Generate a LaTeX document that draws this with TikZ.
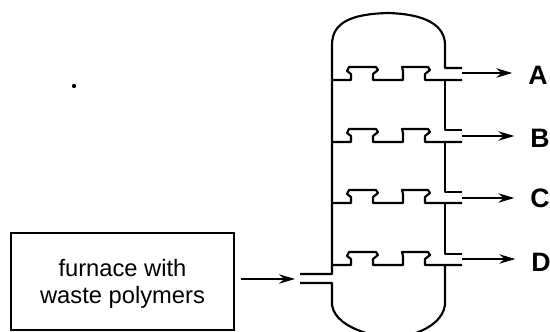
\documentclass[tikz,border=0pt]{standalone}
\usepackage{fontspec}
\setmainfont{Liberation Sans}
\usetikzlibrary{arrows.meta}
\tikzset{
	wall/.style={line width=1.6pt,line join=round},
	flow/.style={line width=1.5pt,-{Stealth[length=12pt,width=7pt]}},
	stream/.style={font=\fontsize{20}{22}\selectfont\bfseries,inner sep=0pt,outer sep=12pt},
	furnacebox/.style={draw,line width=1.1pt,minimum width=167pt,minimum height=73pt,align=center,text depth=0pt,font=\fontsize{17.8}{20.2}\selectfont},
	tray/.pic={
		\draw[wall] (0,0) -- ++(19,0) -- ++(0,-6) -- ++(-4,-3) -- ++(2,-4) -- ++(27,0) -- ++(2,3) -- ++(-5,4) -- ++(0,6)
			-- ++(30,0) -- ++(0,-9) -- ++(-1,-4) -- ++(26,0) -- ++(2,3) -- ++(-5,4) -- ++(0,6) -- ++(37,0);
	}
}
\begin{document}
\begin{tikzpicture}[x=0.75pt,y=-0.75pt]
		\useasboundingbox (0,0) rectangle (550,332);
		% Draw column.
		\draw[wall] (300,274) -- (332,274) -- (332,45) .. controls (332,22) and (352,14) .. (388,13) .. controls (425,14) and (445,25) .. (445,45) -- (445,68) -- (462,68);
		\draw[wall] (300,283) -- (332,283) -- (332,305) .. controls (334,318) and (347,327) .. (366,333);
		\draw[wall] (445,265) -- (445,305) .. controls (443,318) and (432,327) .. (416,333);
		\draw[wall] (445,80) -- (445,130) -- (462,130);
		\draw[wall] (445,142) -- (445,192) -- (462,192);
		\draw[wall] (445,203) -- (445,254) -- (462,254);
		
		% Draw trays.
		\pic at (332,80) {tray};
		\pic at (332,142) {tray};
		\pic at (332,203) {tray};
		\pic at (332,265) {tray};
		
		% Draw streams.
		\node[stream] (a) at (538,75) {A};
		\node[stream] (b) at (540,138) {B};
		\node[stream] (c) at (540,198) {C};
		\node[stream] (d) at (541,262) {D};
		\coordinate (outa) at (462,73);
		\coordinate (outb) at (462,136);
		\coordinate (outc) at (462,198);
		\coordinate (outd) at (462,259);
		\draw[flow] (outa) -- (outa -| a.west);
		\draw[flow] (outb) -- (outb -| b.west);
		\draw[flow] (outc) -- (outc -| c.west);
		\draw[flow] (outd) -- (outd -| d.west);
		
		% Draw furnace.
		\node[furnacebox] (furnace) at (122.5,281.5) {furnace with\\waste polymers};
		\coordinate (inlet) at (295,279);
		\draw[flow,shorten <=5pt] (furnace.east |- inlet) -- (inlet);
		
		\fill (74,86) circle (1.6pt);
	\end{tikzpicture}
\end{document}
